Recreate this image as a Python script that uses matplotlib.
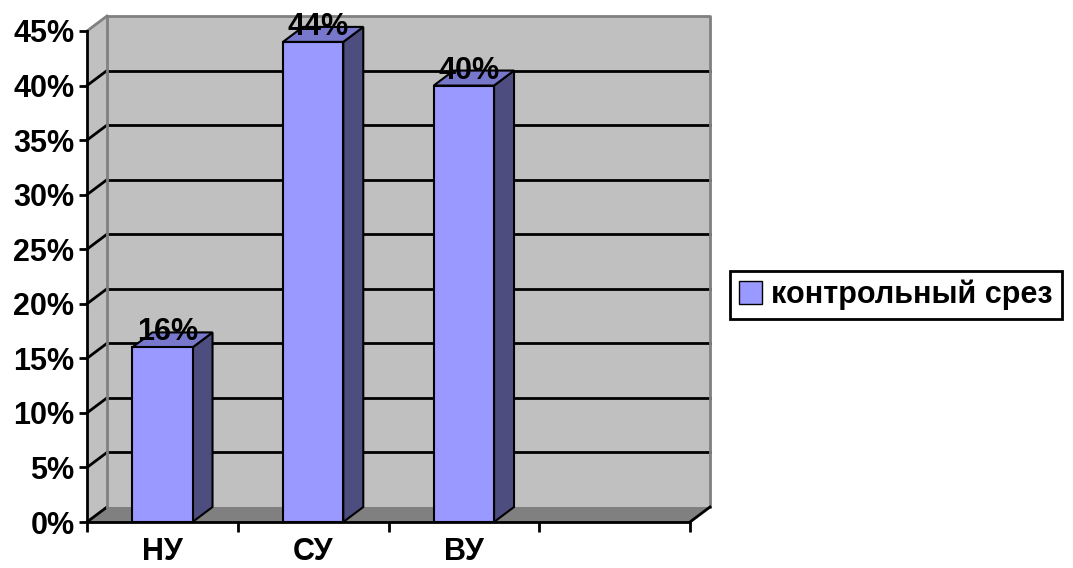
import matplotlib.pyplot as plt
from matplotlib.patches import Polygon, Rectangle, Patch

plt.rcParams['font.family'] = ['Liberation Sans', 'DejaVu Sans']

# данные
categories = ['НУ', 'СУ', 'ВУ', '']
values = [16, 44, 40]
value_labels = ['16%', '44%', '40%']
y_ticks = [0, 5, 10, 15, 20, 25, 30, 35, 40, 45]
series_name = 'контрольный срез'

W, H = 1073, 568
fig = plt.figure(figsize=(W / 100, H / 100), dpi=100)
ax = fig.add_axes([87 / W, 1 - 522 / H, 603 / W, 491 / H])
ax.set_xlim(0, len(categories))
ax.set_ylim(0, 45)

# глубина 3D-эффекта
dx = 20 / 150.75
dy = 1.375
n = len(categories)
fs = 22

front_c = '#9999ff'
side_c = '#4d4d80'
top_c = '#7777cc'
wall_c = '#c0c0c0'
floor_c = '#808080'

# стены и пол
ax.add_patch(Polygon([(dx, dy), (n + dx, dy), (n + dx, 45 + dy), (dx, 45 + dy)],
                     closed=True, facecolor=wall_c, edgecolor='none', zorder=0, clip_on=False))
ax.add_patch(Polygon([(0, 0), (dx, dy), (dx, 45 + dy), (0, 45)],
                     closed=True, facecolor=wall_c, edgecolor='none', zorder=0, clip_on=False))
ax.add_patch(Polygon([(0, 0), (n, 0), (n + dx, dy), (dx, dy)],
                     closed=True, facecolor=floor_c, edgecolor='none', zorder=0.5, clip_on=False))

# линии сетки
for v in y_ticks[1:-1]:
    ax.plot([dx, n + dx], [v + dy, v + dy], color='black', lw=2, zorder=1, clip_on=False)
for v in y_ticks[:-1]:
    ax.plot([0, dx], [v, v + dy], color='black', lw=2, zorder=1, clip_on=False)
ax.plot([0, dx], [45, 45 + dy], color='#808080', lw=2, zorder=1, clip_on=False)
ax.plot([dx, dx, n + dx, n + dx], [dy, 45 + dy, 45 + dy, dy], color='#808080', lw=2,
        zorder=1, clip_on=False)
ax.plot([n, n + dx], [0, dy], color='black', lw=2, zorder=1, clip_on=False)

# столбцы
bw = 0.4
for i, v in enumerate(values):
    x0 = i + 0.5 - bw / 2
    x1 = x0 + bw
    ax.add_patch(Polygon([(x1, 0), (x1 + dx, dy), (x1 + dx, v + dy), (x1, v)], closed=True,
                         facecolor=side_c, edgecolor='black', lw=1.5, zorder=3, clip_on=False))
    ax.add_patch(Polygon([(x0, v), (x1, v), (x1 + dx, v + dy), (x0 + dx, v + dy)], closed=True,
                         facecolor=top_c, edgecolor='black', lw=1.5, zorder=3, clip_on=False))
    ax.add_patch(Rectangle((x0, 0), bw, v, facecolor=front_c, edgecolor='black', lw=1.5,
                           zorder=4, clip_on=False))
    ax.text(i + 0.5 + dx / 4, v + dy, value_labels[i], ha='center', va='center',
            fontsize=fs, fontweight='bold', zorder=6)

# оси
for s in ['top', 'right']:
    ax.spines[s].set_visible(False)
for s in ['left', 'bottom']:
    ax.spines[s].set_linewidth(2)
    ax.spines[s].set_zorder(5)
ax.set_facecolor('none')
ax.set_yticks(y_ticks)
ax.set_yticklabels([f'{v}%' for v in y_ticks], fontsize=fs, fontweight='bold')
ax.tick_params(axis='y', length=6, width=2, pad=3)
ax.set_xticks(range(n + 1))
ax.set_xticklabels([])
ax.tick_params(axis='x', which='major', length=7, width=2)
ax.set_xticks([i + 0.5 for i in range(n)], minor=True)
ax.set_xticklabels(categories, minor=True, fontsize=fs, fontweight='bold')
ax.tick_params(axis='x', which='minor', length=0, pad=11)

# легенда
leg = fig.legend(handles=[Patch(facecolor=front_c, edgecolor='black')], labels=[series_name],
                 loc='center left', bbox_to_anchor=(730 / W, 1 - 295 / H),
                 prop={'size': fs, 'weight': 'bold'}, fancybox=False, edgecolor='black',
                 framealpha=1, handlelength=0.75, handleheight=0.75, handletextpad=0.3,
                 borderpad=0.3, borderaxespad=0)
leg.get_frame().set_linewidth(2)

fig.savefig('out.png', dpi=100)
